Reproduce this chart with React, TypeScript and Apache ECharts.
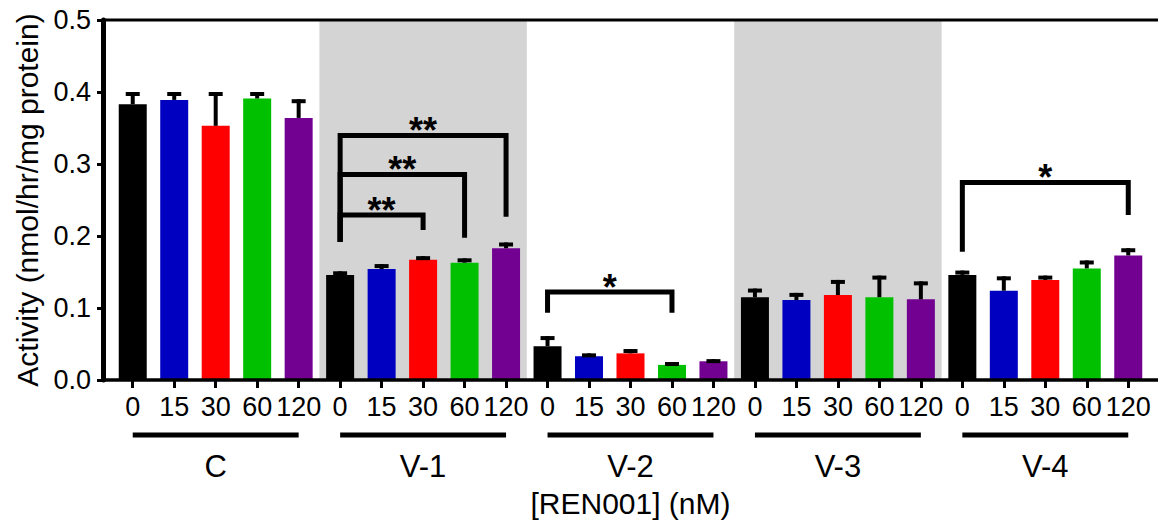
import React, { useEffect, useRef } from "react";
import * as echarts from "echarts";

const FONT = "'Liberation Sans', Arial, Helvetica, sans-serif";

const groups = ["C", "V-1", "V-2", "V-3", "V-4"];
const doses = ["0", "15", "30", "60", "120"];
const doseColors = ["#000000", "#0000C0", "#FF0000", "#00C000", "#720091"];

const meansC = [0.383, 0.389, 0.353, 0.391, 0.364];
const meansV1 = [0.146, 0.154, 0.167, 0.163, 0.183];
const meansV2 = [0.047, 0.033, 0.037, 0.021, 0.026];
const meansV3 = [0.115, 0.111, 0.118, 0.115, 0.112];
const meansV4 = [0.146, 0.124, 0.139, 0.155, 0.173];

const errC = [0.017, 0.011, 0.047, 0.009, 0.026];
const errV1 = [0.005, 0.007, 0.005, 0.006, 0.008];
const errV2 = [0.014, 0.004, 0.006, 0.004, 0.003];
const errV3 = [0.012, 0.010, 0.021, 0.030, 0.025];
const errV4 = [0.006, 0.020, 0.006, 0.011, 0.010];

const shadedGroups = [1, 3];

// significance brackets (category indexes and y levels)
const bracketStart = [5, 5, 5, 10, 20];
const bracketEnd = [7, 8, 9, 13, 24];
const bracketLevel = [0.229, 0.2854, 0.3396, 0.1222, 0.2743];
const bracketLeftEnd = [0.1917, 0.1917, 0.1917, 0.0935, 0.1782];
const bracketRightEnd = [0.2083, 0.1976, 0.2268, 0.0935, 0.2292];
const bracketLabel = ["**", "**", "**", "*", "*"];

export default function App() {
  const ref = useRef<HTMLDivElement>(null);
  useEffect(() => {
    document.body.style.margin = "0";
    const chart = echarts.init(ref.current!, null, { renderer: "svg" });
    const categories: string[] = [];
    groups.forEach(() => doses.forEach((d) => categories.push(d)));
    const means = [meansC, meansV1, meansV2, meansV3, meansV4].flat();
    const errs = [errC, errV1, errV2, errV3, errV4].flat();

    const barData = means.map((m, i) => ({
      value: m,
      itemStyle: { color: doseColors[i % doses.length] },
    }));
    const errData = means.map((m, i) => [i, m, m + errs[i]]);
    const shadeData = shadedGroups.map((g) => [g * doses.length, g * doses.length + doses.length - 1]);
    const bracketData = bracketStart.map((s, i) => [
      s,
      bracketEnd[i],
      bracketLevel[i],
      bracketLeftEnd[i],
      bracketRightEnd[i],
    ]);
    const groupData = groups.map((g, i) => [i * doses.length, i * doses.length + doses.length - 1]);

    chart.setOption({
      animation: false,
      grid: { left: 112, right: 9, top: 20, bottom: 146 },
      xAxis: {
        type: "category",
        data: categories,
        boundaryGap: true,
        axisLine: { show: false },
        axisTick: { show: true, alignWithLabel: true, length: 8, lineStyle: { color: "#000", width: 3 } },
        axisLabel: { interval: 0, color: "#000", fontSize: 27, margin: 13, fontFamily: FONT },
        name: "[REN001] (nM)",
        nameLocation: "middle",
        nameGap: 108,
        nameTextStyle: { fontSize: 30, color: "#000", fontFamily: FONT },
      },
      yAxis: {
        type: "value",
        min: 0,
        max: 0.5,
        interval: 0.1,
        offset: 9,
        axisLine: { show: true, lineStyle: { color: "#000", width: 5 } },
        axisTick: { show: true, length: 6, lineStyle: { color: "#000", width: 3 } },
        axisLabel: {
          formatter: (v: number) => v.toFixed(1),
          fontSize: 27,
          margin: 12,
          color: "#000",
          fontFamily: FONT,
        },
        splitLine: { show: false },
        name: "Activity (nmol/hr/mg protein)",
        nameLocation: "middle",
        nameGap: 58,
        nameRotate: 90,
        nameTextStyle: { fontSize: 30, color: "#000", fontFamily: FONT },
      },
      graphic: [
        { type: "line", z: 100, shape: { x1: 103, y1: 380, x2: 1158, y2: 380 }, style: { stroke: "#000", lineWidth: 3.5 } },
        { type: "line", z: 100, shape: { x1: 103, y1: 20, x2: 1158, y2: 20 }, style: { stroke: "#000", lineWidth: 3 } },
      ],
      series: [
        {
          type: "custom",
          z: 0,
          data: shadeData,
          encode: { x: [0, 1] },
          renderItem: (params: any, api: any) => {
            const a = api.coord([api.value(0), 0.5]);
            const b = api.coord([api.value(1), 0]);
            const bw = api.size([1, 0])[0];
            return {
              type: "rect",
              shape: { x: a[0] - bw / 2, y: a[1], width: b[0] - a[0] + bw, height: b[1] - a[1] },
              style: { fill: "#D4D4D4" },
            };
          },
        },
        {
          type: "bar",
          z: 2,
          data: barData,
          barWidth: 28,
        },
        {
          type: "custom",
          z: 3,
          data: errData,
          encode: { x: 0, y: [1, 2] },
          renderItem: (params: any, api: any) => {
            const base = api.coord([api.value(0), api.value(1)]);
            const top = api.coord([api.value(0), api.value(2)]);
            return {
              type: "group",
              children: [
                { type: "rect", shape: { x: base[0] - 2, y: top[1], width: 4, height: base[1] - top[1] }, style: { fill: "#000" } },
                { type: "rect", shape: { x: base[0] - 7, y: top[1], width: 14, height: 4 }, style: { fill: "#000" } },
              ],
            };
          },
        },
        {
          type: "custom",
          z: 4,
          clip: false,
          data: bracketData,
          encode: { x: [0, 1], y: [2, 3, 4] },
          renderItem: (params: any, api: any) => {
            const s = api.value(0);
            const e = api.value(1);
            const lv = api.value(2);
            const p1 = api.coord([s, api.value(3)]);
            const p2 = api.coord([s, lv]);
            const p3 = api.coord([e, lv]);
            const p4 = api.coord([e, api.value(4)]);
            return {
              type: "group",
              children: [
                {
                  type: "polyline",
                  shape: { points: [p1, p2, p3, p4] },
                  style: { stroke: "#000", lineWidth: 5, fill: "none", lineJoin: "miter" },
                },
                {
                  type: "text",
                  style: {
                    text: bracketLabel[params.dataIndex],
                    x: (p2[0] + p3[0]) / 2,
                    y: p2[1] - 5,
                    align: "center",
                    verticalAlign: "middle",
                    fontSize: 36,
                    fontWeight: "bold",
                    fontFamily: FONT,
                    fill: "#000",
                  },
                },
              ],
            };
          },
        },
        {
          type: "custom",
          z: 4,
          clip: false,
          data: groupData,
          encode: { x: [0, 1] },
          renderItem: (params: any, api: any) => {
            const a = api.coord([api.value(0), 0]);
            const b = api.coord([api.value(1), 0]);
            return {
              type: "group",
              children: [
                {
                  type: "line",
                  shape: { x1: a[0], y1: a[1] + 55, x2: b[0], y2: a[1] + 55 },
                  style: { stroke: "#000", lineWidth: 5 },
                },
                {
                  type: "text",
                  style: {
                    text: groups[params.dataIndex],
                    x: (a[0] + b[0]) / 2,
                    y: a[1] + 86,
                    align: "center",
                    verticalAlign: "middle",
                    fontSize: 31,
                    fontFamily: FONT,
                    fill: "#000",
                  },
                },
              ],
            };
          },
        },
      ],
    });
    return () => chart.dispose();
  }, []);
  return <div ref={ref} style={{ width: 1158, height: 526 }} />;
}
